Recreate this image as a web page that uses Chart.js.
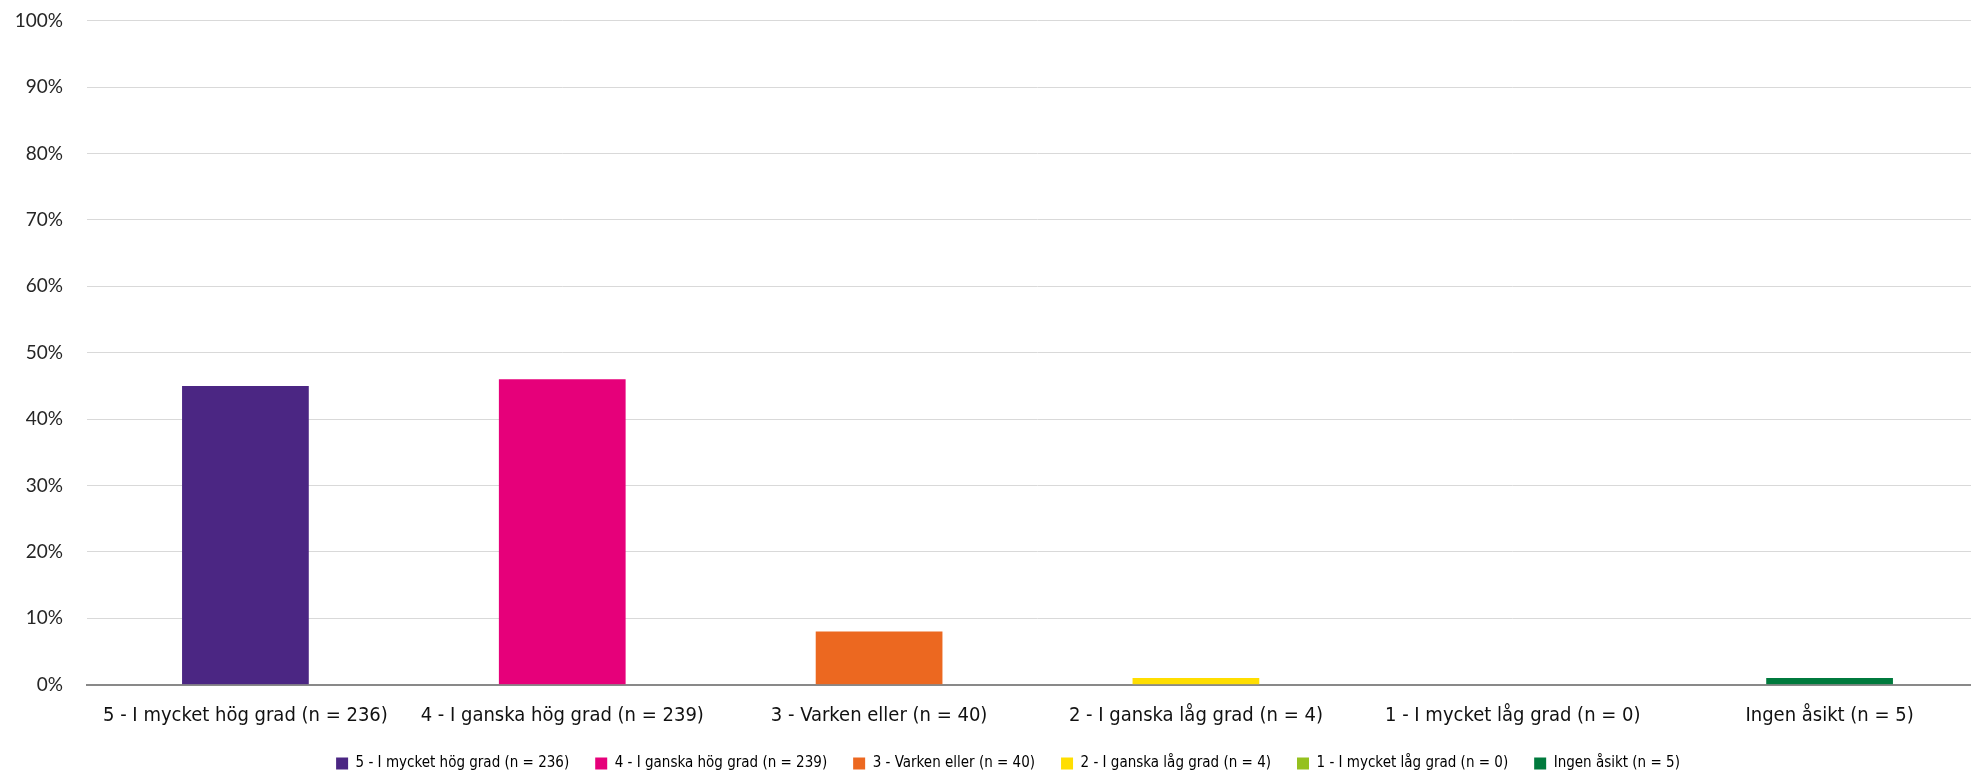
<!DOCTYPE html>
<html>
<head>
<meta charset="utf-8">
<script src="https://cdn.jsdelivr.net/npm/chart.js@4"></script>
<style>
  html, body { margin: 0; padding: 0; background: #fff; overflow: hidden; }
  #wrap { width: 1988px; height: 772px; }
</style>
</head>
<body>
<div id="wrap"><canvas id="bkgcanvas"></canvas></div>
<script>
// answer categories (x axis + legend)
const categories = [
  '5 - I mycket hög grad (n = 236)',
  '4 - I ganska hög grad (n = 239)',
  '3 - Varken eller (n = 40)',
  '2 - I ganska låg grad (n = 4)',
  '1 - I mycket låg grad (n = 0)',
  'Ingen åsikt (n = 5)',
];

// share of answers in percent
const shares = [45, 46, 8, 1, 0, 1];

// y axis ticks
const yTicks = [0, 10, 20, 30, 40, 50, 60, 70, 80, 90, 100];

const barColors = ['#4B2683', '#E6007A', '#EC6820', '#FFDE00', '#95C11F', '#007A3D'];

const narrow = "'DejaVu Sans Condensed', sans-serif";

// nudge the legend a bit to the right, like the original
const legendShift = {
  id: 'legendShift',
  afterLayout(chart) {
    chart.legend.left += 14;
    chart.legend.right += 14;
  },
};

const chartdata = {
  labels: categories,
  datasets: [
    {
      data: shares,
      backgroundColor: barColors,
      borderWidth: 0,
      categoryPercentage: 1,
      barPercentage: 0.4,
    },
  ],
};

const chartconfig = {
  type: 'bar',
  data: chartdata,
  plugins: [legendShift],
  options: {
    responsive: true,
    maintainAspectRatio: false,
    animation: false,
    layout: { padding: { left: 0, top: 0, right: 0, bottom: -9 } },
    scales: {
      x: {
        grid: { display: false, drawTicks: false },
        border: { display: true, color: '#898989', width: 2 },
        afterFit: (axis) => {
          axis.height = 45.3;
        },
        ticks: {
          color: '#111',
          padding: 19,
          maxRotation: 0,
          autoSkip: false,
          font: { family: narrow, size: 20 },
        },
      },
      y: {
        min: 0,
        max: 100,
        afterBuildTicks: (axis) => {
          axis.ticks = yTicks.map((v) => ({ value: v }));
        },
        afterFit: (axis) => {
          axis.width = 87;
          axis.paddingTop = 20.7;
          axis.paddingBottom = 0;
        },
        grid: { color: '#D9D9D9', lineWidth: 1, drawTicks: false },
        border: { display: false },
        ticks: {
          color: '#262626',
          padding: 24,
          font: { family: 'Lato', size: 19 },
          callback: (v) => v + '%',
        },
      },
    },
    plugins: {
      legend: {
        display: true,
        position: 'bottom',
        labels: {
          boxWidth: 12,
          boxHeight: 12,
          padding: 26,
          color: '#111',
          font: { family: narrow, size: 15 },
          generateLabels: () =>
            categories.map((c, i) => ({
              text: c,
              fillStyle: barColors[i],
              strokeStyle: barColors[i],
              lineWidth: 0,
              hidden: false,
              index: i,
            })),
        },
      },
      tooltip: { enabled: false },
    },
  },
};

const chart = new Chart('bkgcanvas', chartconfig);
</script>
</body>
</html>
